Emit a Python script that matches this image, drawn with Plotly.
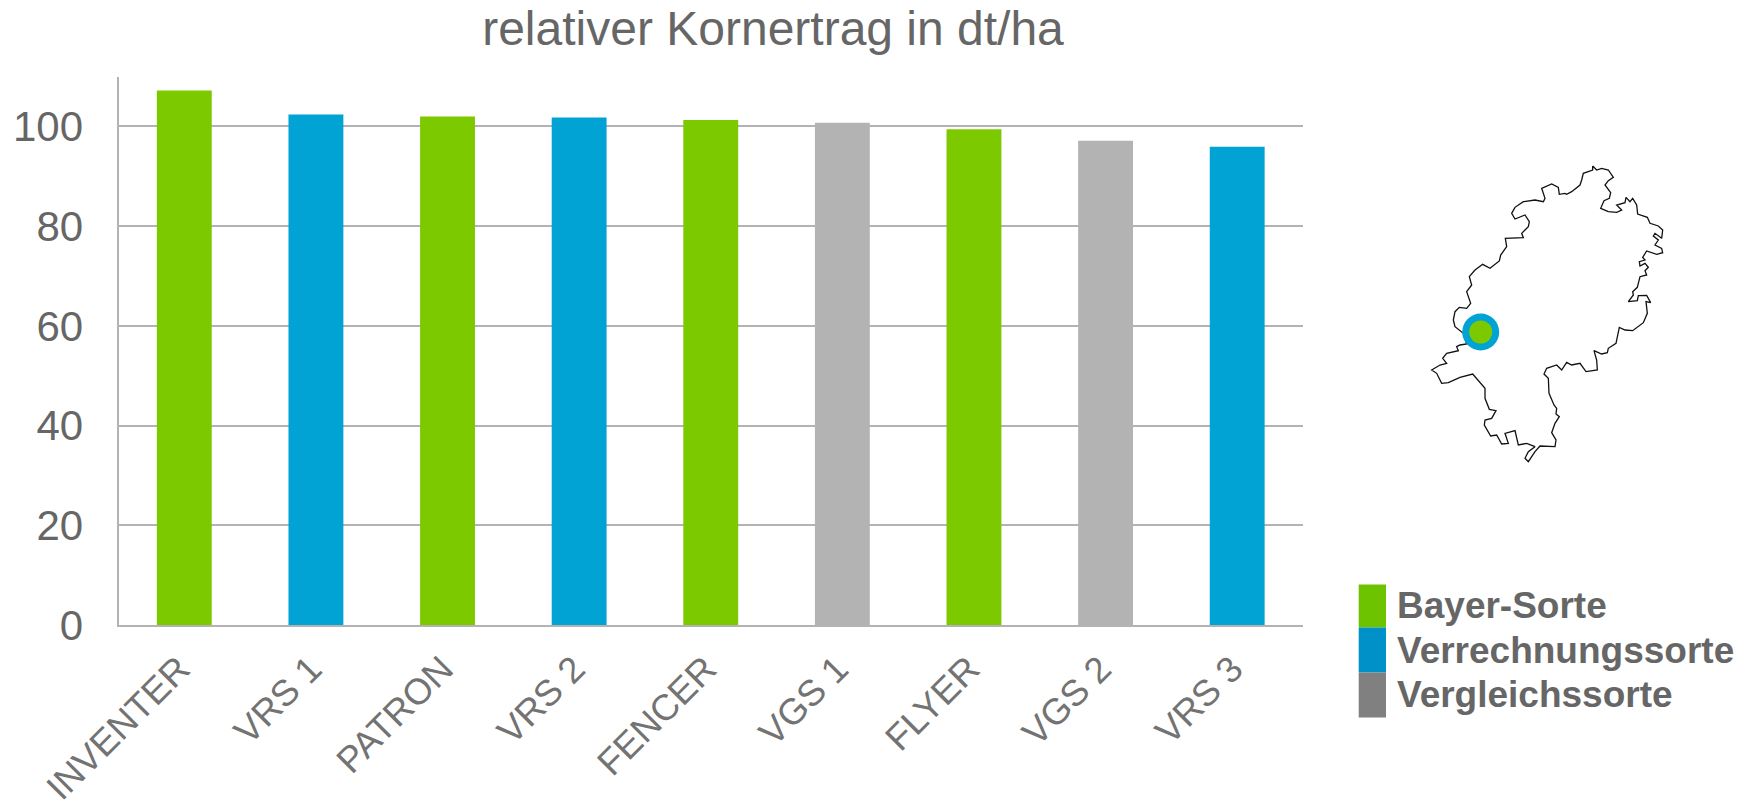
import plotly.graph_objects as go

W, H = 1752, 804
categories = ["INVENTER", "VRS 1", "PATRON", "VRS 2", "FENCER", "VGS 1", "FLYER", "VGS 2", "VRS 3"]
values = [107.2, 102.4, 102.0, 101.8, 101.3, 100.7, 99.4, 97.1, 95.9]
groups = ["B", "V", "B", "V", "B", "G", "B", "G", "V"]
bar_colors = {"B": "#7DC900", "V": "#00A3D3", "G": "#B3B3B3"}
y_ticks = [0, 20, 40, 60, 80, 100]
title_text = "relativer Kornertrag in dt/ha"
legend_labels = ["Bayer-Sorte", "Verrechnungssorte", "Vergleichssorte"]
legend_colors = ["#6EC300", "#0091C8", "#808080"]

# Outline of the map, traced on the reference (image pixels)
map_x = [578,590,605,625,640,625,615,632,628,612,602,625,650,665,650,675,678,690,698,710,713,742,750,775,788,785,765,760,775,765,785,788,770,740,728,735,718,720,735,745,735,740,720,712,698,700,685,712,715,740,752,738,742,730,698,675,658,648,625,622,605,582,590,592,558,540,515,500,485,470,440,432,445,447,462,470,468,478,465,455,468,465,420,405,385,375,385,405,380,355,345,315,325,305,290,272,253,255,275,288,268,255,255,218,180,145,125,110,95,120,140,128,140,175,170,180,200,190,165,160,165,178,200,212,200,215,208,225,248,270,298,302,320,316,370,365,385,388,375,345,335,345,370,405,430,435,425,455,475,478,495,500,515,540,545,550,578,578]
map_y = [48,60,55,60,82,92,105,128,145,152,175,185,187,180,165,158,142,155,145,165,192,202,220,228,240,265,250,258,270,285,295,308,313,303,322,330,335,348,340,352,362,375,380,412,425,435,455,452,437,436,458,455,490,518,542,540,532,580,595,608,612,602,630,660,665,640,645,637,660,645,655,672,685,730,765,775,792,800,820,848,870,890,888,905,935,925,905,890,880,885,842,850,880,882,855,858,825,810,805,782,778,745,715,672,682,698,700,670,660,645,640,625,610,602,590,585,582,550,530,510,485,472,475,460,425,405,380,360,343,355,333,315,290,265,263,250,230,215,195,207,190,172,155,150,155,145,115,102,112,133,130,133,125,105,90,70,60,48]
map_px_x = [1400 + v / 3 for v in map_x]
map_px_y = [150 + v / 3 for v in map_y]
site_x, site_y = [1480.7], [332]

fig = go.Figure()
fig.add_trace(go.Bar(x=categories, y=values, width=0.417,
                     marker=dict(color=[bar_colors[g] for g in groups], line_width=0),
                     showlegend=False, hoverinfo="x+y"))
fig.add_trace(go.Scatter(x=map_px_x, y=map_px_y, xaxis="x2", yaxis="y2", mode="lines",
                         line=dict(color="#111111", width=1.3), showlegend=False, hoverinfo="skip"))
fig.add_trace(go.Scatter(x=site_x, y=site_y, xaxis="x2", yaxis="y2", mode="markers",
                         marker=dict(size=37, color="#00A3D3", line_width=0), showlegend=False, hoverinfo="skip"))
fig.add_trace(go.Scatter(x=site_x, y=site_y, xaxis="x2", yaxis="y2", mode="markers",
                         marker=dict(size=23, color="#7DC900", line_width=0), showlegend=False, hoverinfo="skip"))

font = "Liberation Sans, Arial, sans-serif"
shapes, annotations = [], []
legend_edges = [584.5, 627.5, 672.5, 717.5]
legend_text_y = [605, 650, 694]
for i, (lab, col) in enumerate(zip(legend_labels, legend_colors)):
    shapes.append(dict(type="rect", xref="x2", yref="y2", x0=1358.7, x1=1386,
                       y0=legend_edges[i], y1=legend_edges[i + 1], fillcolor=col, line_width=0))
    annotations.append(dict(text=f"<b>{lab}</b>", xref="x2", yref="y2", x=1395, y=legend_text_y[i],
                            xanchor="left", yanchor="middle", showarrow=False,
                            font=dict(family=font, size=37, color="#666666")))

fig.update_layout(
    width=W, height=H, autosize=False, paper_bgcolor="white", plot_bgcolor="rgba(0,0,0,0)",
    margin=dict(l=0, r=0, t=0, b=0),
    title=dict(text=title_text, x=773 / W, xanchor="center", y=1 - 28 / H, yanchor="middle",
               font=dict(family=font, size=48, color="#666666"), automargin=False),
    bargap=0.583,
    shapes=shapes, annotations=annotations,
    xaxis=dict(domain=[118.5 / W, 1303 / W], anchor="y", type="category", categoryorder="array", categoryarray=categories,
               tickangle=-45, showgrid=False, automargin=False,
               showline=True, linecolor="#B3B3B3", linewidth=2, ticks="",
               ticklabelstandoff=6, ticklabelshift=-5,
               tickfont=dict(family=font, size=36.5, color="#737373")),
    yaxis=dict(domain=[1 - 625 / H, 1 - 76.5 / H], anchor="x", range=[0, 110], tickvals=y_ticks, showgrid=True,
               gridcolor="#B3B3B3", gridwidth=2, zeroline=False, automargin=False,
               showline=True, linecolor="#B3B3B3", linewidth=2, ticks="", ticklabelstandoff=25,
               tickfont=dict(family=font, size=42, color="#666666")),
    xaxis2=dict(domain=[0, 1], range=[0, W], anchor="y2", visible=False, fixedrange=True),
    yaxis2=dict(domain=[0, 1], range=[H, 0], anchor="x2", visible=False, fixedrange=True),
)
fig.write_html("out.html", post_script="document.body.style.margin='0';", config=dict(displayModeBar=False))
